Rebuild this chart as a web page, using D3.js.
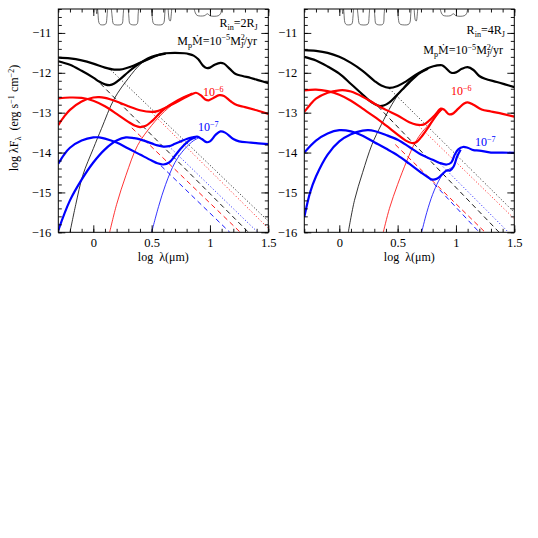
<!DOCTYPE html>
<html>
<head>
<meta charset="utf-8">
<script src="https://cdnjs.cloudflare.com/ajax/libs/d3/7.8.5/d3.min.js"></script>
<style>
  body { margin: 0; background: #fff; }
  svg text { font-family: "Liberation Serif", "DejaVu Serif", serif; }
</style>
</head>
<body>
<svg id="chart" width="538" height="538"></svg>
<script>
// axis ticks
const xTicks = [0, 0.5, 1, 1.5];
const yTicks = [-16, -15, -14, -13, -12, -11];
const xMinor = d3.range(-3, 16).map(d => d / 10);
const yMinor = d3.range(-80, -51).map(d => d / 5);

// filter transmission profiles hanging from the top (log lambda, log lambda F)
const bandJ = [[0.025,-10.4],[0.03,-10.52],[0.036,-10.4],[0.04,-10.5],[0.048,-10.74],[0.06,-10.79],[0.1,-10.79],[0.11,-10.76],[0.117,-10.6],[0.122,-10.4]];
const bandH = [[0.155,-10.4],[0.162,-10.6],[0.17,-10.76],[0.18,-10.79],[0.24,-10.79],[0.25,-10.75],[0.255,-10.6],[0.26,-10.4]];
const bandK = [[0.3,-10.4],[0.305,-10.6],[0.312,-10.76],[0.325,-10.79],[0.37,-10.79],[0.38,-10.74],[0.384,-10.55],[0.388,-10.4]];
const bandL = [[0.5,-10.4],[0.505,-10.6],[0.515,-10.76],[0.53,-10.79],[0.59,-10.79],[0.605,-10.74],[0.612,-10.55],[0.616,-10.4]];
const bandM = [[0.642,-10.4],[0.652,-10.68],[0.66,-10.7],[0.668,-10.55],[0.672,-10.4]];
const bandN = [[0.865,-10.4],[0.875,-10.5],[0.89,-10.56],[0.95,-10.57],[0.98,-10.52],[1.0,-10.57],[1.07,-10.57],[1.09,-10.52],[1.1,-10.4]];

// ---- left panel, R_in = 2 R_J ----
const leftBlackE = [[-0.3,-11.71],[-0.2,-11.8],[-0.1,-11.95],[0,-12.12],[0.05,-12.22],[0.1,-12.29],[0.14,-12.31],[0.18,-12.27],[0.23,-12.16],[0.3,-11.98],[0.36,-11.84],[0.43,-11.7],[0.5,-11.6],[0.56,-11.55],[0.62,-11.52]];
const leftBlackL = [[-0.3,-11.62],[-0.2,-11.64],[-0.1,-11.69],[0,-11.77],[0.1,-11.87],[0.18,-11.92],[0.25,-11.91],[0.32,-11.85],[0.4,-11.75],[0.5,-11.62],[0.57,-11.54],[0.62,-11.51],[0.7,-11.5],[0.78,-11.51],[0.82,-11.53],[0.86,-11.57],[0.9,-11.66],[0.94,-11.82],[0.97,-11.88],[1.0,-11.87],[1.04,-11.8],[1.09,-11.75],[1.12,-11.77],[1.17,-11.9],[1.22,-12.03],[1.28,-12.08],[1.35,-12.13],[1.42,-12.19],[1.5,-12.26]];
const leftBlackThin = [[-0.2,-16],[-0.15,-15.3],[-0.09,-14.57],[0,-13.9],[0.07,-13.4],[0.18,-12.65],[0.3,-12.14],[0.41,-11.77],[0.5,-11.62],[0.56,-11.56],[0.62,-11.52]];
const leftBlackDash = [[0.06,-12.27],[1.33,-16]];
const leftBlackDot = [[0.15,-11.93],[1.5,-15.72]];

const leftRedE = [[-0.3,-12.64],[-0.2,-12.62],[-0.1,-12.63],[0,-12.7],[0.1,-12.84],[0.2,-13.03],[0.3,-13.23],[0.36,-13.33],[0.4,-13.36],[0.45,-13.33],[0.5,-13.22],[0.55,-13.07],[0.6,-12.93],[0.65,-12.82],[0.7,-12.73],[0.75,-12.65],[0.8,-12.58],[0.85,-12.52]];
const leftRedL = [[-0.3,-13.31],[-0.25,-13.1],[-0.2,-12.93],[-0.1,-12.72],[0,-12.62],[0.05,-12.61],[0.1,-12.63],[0.2,-12.72],[0.3,-12.84],[0.4,-12.94],[0.5,-12.98],[0.55,-12.96],[0.6,-12.9],[0.7,-12.76],[0.8,-12.6],[0.85,-12.53],[0.88,-12.5],[0.92,-12.56],[0.96,-12.67],[0.99,-12.69],[1.03,-12.63],[1.08,-12.56],[1.12,-12.58],[1.18,-12.72],[1.23,-12.81],[1.3,-12.86],[1.4,-12.94],[1.5,-13.03]];
const leftRedThin = [[0.14,-16],[0.2,-15.3],[0.28,-14.57],[0.38,-13.82],[0.5,-13.32],[0.61,-12.97],[0.75,-12.65],[0.85,-12.52]];
const leftRedDash = [[0.33,-13.38],[1.26,-16]];
const leftRedDot = [[0.5,-13.0],[1.5,-15.9]];

const leftBlueE = [[-0.3,-14.28],[-0.25,-14.05],[-0.2,-13.88],[-0.1,-13.7],[0,-13.62],[0.05,-13.62],[0.1,-13.65],[0.2,-13.75],[0.3,-13.9],[0.4,-14.05],[0.5,-14.2],[0.55,-14.27],[0.6,-14.3],[0.65,-14.25],[0.7,-14.08],[0.75,-13.9],[0.8,-13.75],[0.85,-13.65],[0.88,-13.62]];
const leftBlueL = [[-0.3,-15.95],[-0.2,-15.2],[-0.1,-14.68],[0,-14.25],[0.1,-13.92],[0.2,-13.7],[0.28,-13.62],[0.35,-13.64],[0.4,-13.67],[0.5,-13.77],[0.55,-13.82],[0.6,-13.85],[0.65,-13.84],[0.7,-13.78],[0.75,-13.72],[0.8,-13.66],[0.85,-13.62],[0.89,-13.6],[0.93,-13.66],[0.97,-13.74],[1.0,-13.72],[1.05,-13.55],[1.09,-13.47],[1.13,-13.5],[1.2,-13.66],[1.25,-13.72],[1.35,-13.75],[1.5,-13.79]];
const leftBlueThin = [[0.5,-16],[0.56,-15.35],[0.62,-14.8],[0.7,-14.25],[0.78,-13.92],[0.86,-13.7],[0.9,-13.64]];
const leftBlueDash = [[0.58,-14.33],[1.17,-16]];
const leftBlueDot = [[0.65,-13.85],[1.41,-16]];

// ---- right panel, R_in = 4 R_J ----
const rightBlackE = [[-0.3,-11.6],[-0.2,-11.69],[-0.1,-11.84],[0,-12.02],[0.1,-12.28],[0.19,-12.52],[0.25,-12.68],[0.3,-12.78],[0.34,-12.83],[0.38,-12.82],[0.43,-12.74],[0.48,-12.6],[0.54,-12.42],[0.6,-12.24],[0.65,-12.1],[0.7,-11.99],[0.76,-11.9]];
const rightBlackL = [[-0.3,-11.43],[-0.2,-11.45],[-0.1,-11.5],[0,-11.6],[0.1,-11.75],[0.2,-11.95],[0.3,-12.2],[0.36,-12.32],[0.43,-12.38],[0.5,-12.33],[0.57,-12.22],[0.65,-12.06],[0.72,-11.94],[0.78,-11.86],[0.83,-11.82],[0.88,-11.81],[0.92,-11.9],[0.96,-12.0],[1.0,-11.99],[1.05,-11.9],[1.1,-11.86],[1.15,-11.93],[1.2,-12.08],[1.25,-12.15],[1.35,-12.23],[1.42,-12.29],[1.5,-12.36]];
const rightBlackThin = [[0.077,-16],[0.13,-15.2],[0.2,-14.5],[0.28,-13.8],[0.36,-13.3],[0.45,-12.8],[0.53,-12.44],[0.6,-12.2],[0.68,-12.02],[0.76,-11.9]];
const rightBlackDash = [[0.33,-12.84],[1.37,-16]];
const rightBlackDot = [[0.43,-12.4],[1.5,-15.5]];

const rightRedE = [[-0.3,-12.44],[-0.2,-12.42],[-0.1,-12.46],[0,-12.55],[0.1,-12.7],[0.2,-12.9],[0.3,-13.1],[0.4,-13.32],[0.5,-13.55],[0.57,-13.7],[0.62,-13.76],[0.66,-13.74],[0.7,-13.62],[0.75,-13.42],[0.8,-13.2],[0.85,-13.0],[0.88,-12.9]];
const rightRedL = [[-0.3,-12.98],[-0.25,-12.8],[-0.2,-12.65],[-0.1,-12.5],[0,-12.44],[0.05,-12.44],[0.1,-12.47],[0.2,-12.6],[0.3,-12.77],[0.4,-12.93],[0.5,-13.07],[0.6,-13.24],[0.66,-13.3],[0.72,-13.3],[0.77,-13.2],[0.82,-13.06],[0.87,-12.9],[0.9,-12.93],[0.94,-13.04],[0.97,-13.03],[1.02,-12.9],[1.07,-12.77],[1.1,-12.74],[1.15,-12.8],[1.22,-12.92],[1.3,-12.97],[1.4,-13.03],[1.5,-13.1]];
const rightRedThin = [[0.377,-16],[0.43,-15.4],[0.5,-14.8],[0.58,-14.2],[0.65,-13.75],[0.72,-13.45],[0.8,-13.2],[0.87,-12.95],[0.9,-12.9]];
const rightRedDash = [[0.48,-13.8],[1.25,-16]];
const rightRedDot = [[0.68,-13.33],[1.5,-15.66]];

const rightBlueE = [[-0.3,-14.0],[-0.2,-13.7],[-0.1,-13.52],[0,-13.44],[0.1,-13.47],[0.2,-13.58],[0.3,-13.74],[0.4,-13.9],[0.5,-14.07],[0.6,-14.28],[0.7,-14.5],[0.76,-14.62],[0.8,-14.68],[0.84,-14.65],[0.88,-14.55],[0.92,-14.45],[0.95,-14.45],[0.98,-14.35],[1.01,-14.1],[1.04,-13.93]];
const rightBlueL = [[-0.3,-15.62],[-0.25,-15.0],[-0.2,-14.6],[-0.1,-14.05],[0,-13.72],[0.1,-13.54],[0.2,-13.45],[0.25,-13.44],[0.3,-13.46],[0.4,-13.56],[0.5,-13.68],[0.6,-13.86],[0.7,-14.05],[0.8,-14.18],[0.86,-14.26],[0.92,-14.3],[0.96,-14.25],[0.99,-14.05],[1.02,-13.92],[1.06,-13.86],[1.1,-13.88],[1.15,-13.94],[1.2,-13.95],[1.3,-14.0],[1.4,-14.0],[1.5,-14.01]];
const rightBlueThin = [[0.706,-16],[0.75,-15.5],[0.8,-15.05],[0.85,-14.72],[0.9,-14.5],[0.95,-14.4],[0.98,-14.36]];
const rightBlueDash = [[0.76,-14.62],[1.2,-16]];
const rightBlueDot = [[0.85,-14.24],[1.45,-16]];

const bands = [bandJ, bandH, bandK, bandL, bandM, bandN];

const svg = d3.select('#chart');
const plotTop = 9, plotBottom = 232.3, plotW = 210;

const y = d3.scaleLinear().domain([-16, -10.4]).range([plotBottom, plotTop]);

const styles = {
  thick: {w: 2.2, dash: null},
  thin: {w: 0.8, dash: null},
  dash: {w: 0.9, dash: '5,3.5'},
  dot: {w: 0.9, dash: '1,2.2'}
};

const panels = [
  {
    id: 'L', left: 58.3,
    series: [
      [leftBlackDot, 'dot', 'black'], [leftRedDot, 'dot', 'red'], [leftBlueDot, 'dot', 'blue'],
      [leftBlackDash, 'dash', 'black'], [leftRedDash, 'dash', 'red'], [leftBlueDash, 'dash', 'blue'],
      [leftBlackThin, 'thin', 'black'], [leftRedThin, 'thin', 'red'], [leftBlueThin, 'thin', 'blue'],
      [leftBlackE, 'thick', 'black'], [leftBlackL, 'thick', 'black'],
      [leftRedE, 'thick', 'red'], [leftRedL, 'thick', 'red'],
      [leftBlueE, 'thick', 'blue'], [leftBlueL, 'thick', 'blue']
    ],
    rin: '2', rinPos: [1.41, -10.85], mdotPos: [1.403, -11.3],
    redLab: [0.94, -12.59], blueLab: [0.897, -13.46]
  },
  {
    id: 'R', left: 304.3,
    series: [
      [rightBlackDot, 'dot', 'black'], [rightRedDot, 'dot', 'red'], [rightBlueDot, 'dot', 'blue'],
      [rightBlackDash, 'dash', 'black'], [rightRedDash, 'dash', 'red'], [rightBlueDash, 'dash', 'blue'],
      [rightBlackThin, 'thin', 'black'], [rightRedThin, 'thin', 'red'], [rightBlueThin, 'thin', 'blue'],
      [rightBlackE, 'thick', 'black'], [rightBlackL, 'thick', 'black'],
      [rightRedE, 'thick', 'red'], [rightRedL, 'thick', 'red'],
      [rightBlueE, 'thick', 'blue'], [rightBlueL, 'thick', 'blue']
    ],
    rin: '4', rinPos: [1.42, -11.03], mdotPos: [1.403, -11.53],
    redLab: [0.957, -12.56], blueLab: [1.163, -13.84]
  }
];

// text with sub/superscripts: parts are [text, kind, dx, font, fontSize]
function richText(g, px, py, parts, anchor, color, size) {
  const t = g.append('text').attr('x', px).attr('y', py)
    .attr('text-anchor', anchor).attr('fill', color).style('font-size', size + 'px');
  let off = 0;
  parts.forEach(([s, k, dx, font, fs]) => {
    const target = k === 'b' ? 3 : (k === 'p' ? -4.5 : 0);
    const sp = t.append('tspan').attr('dy', target - off).text(s);
    if (dx) sp.attr('dx', dx);
    if (font) sp.style('font-family', font);
    if (k !== 'n') sp.style('font-size', (size * 0.68) + 'px');
    if (fs) sp.style('font-size', fs + 'px');
    off = target;
  });
  return t;
}

panels.forEach(p => {
  const x = d3.scaleLinear().domain([-0.3, 1.5]).range([p.left, p.left + plotW]);
  const g = svg.append('g');

  g.append('clipPath').attr('id', 'clip' + p.id).append('rect')
    .attr('x', p.left).attr('y', plotTop).attr('width', plotW).attr('height', plotBottom - plotTop);

  const line = d3.line().x(d => x(d[0])).y(d => y(d[1])).curve(d3.curveCatmullRom.alpha(0.5));
  const plot = g.append('g').attr('clip-path', `url(#clip${p.id})`);

  bands.forEach(b => {
    plot.append('path').attr('d', line(b))
      .attr('fill', 'none').attr('stroke', '#333').attr('stroke-width', 0.7);
  });

  p.series.forEach(([data, kind, color]) => {
    const st = styles[kind];
    plot.append('path').attr('d', line(data))
      .attr('fill', 'none')
      .attr('stroke', color)
      .attr('stroke-width', st.w)
      .attr('stroke-dasharray', st.dash)
      .attr('stroke-linejoin', 'round');
  });

  // axes: major and minor ticks on all four sides, pointing inward
  const noDomain = s => s.select('.domain').remove();
  const fmt = d3.format('');
  g.append('g').attr('transform', `translate(0,${plotBottom})`)
    .call(d3.axisBottom(x).tickValues(xTicks).tickSize(-7).tickPadding(6).tickFormat(fmt)).call(noDomain);
  g.append('g').attr('transform', `translate(0,${plotBottom})`)
    .call(d3.axisBottom(x).tickValues(xMinor).tickSize(-3.5).tickFormat('')).call(noDomain);
  g.append('g').attr('transform', `translate(0,${plotTop})`)
    .call(d3.axisTop(x).tickValues(xTicks).tickSize(-7).tickFormat('')).call(noDomain);
  g.append('g').attr('transform', `translate(0,${plotTop})`)
    .call(d3.axisTop(x).tickValues(xMinor).tickSize(-3.5).tickFormat('')).call(noDomain);
  g.append('g').attr('transform', `translate(${p.left},0)`)
    .call(d3.axisLeft(y).tickValues(yTicks).tickSize(-7).tickPadding(7).tickFormat(d3.format('d'))).call(noDomain);
  g.append('g').attr('transform', `translate(${p.left},0)`)
    .call(d3.axisLeft(y).tickValues(yMinor).tickSize(-3.5).tickFormat('')).call(noDomain);
  g.append('g').attr('transform', `translate(${p.left + plotW},0)`)
    .call(d3.axisRight(y).tickValues(yTicks).tickSize(-7).tickFormat('')).call(noDomain);
  g.append('g').attr('transform', `translate(${p.left + plotW},0)`)
    .call(d3.axisRight(y).tickValues(yMinor).tickSize(-3.5).tickFormat('')).call(noDomain);

  g.selectAll('.tick text').attr('font-family', null).style('font-size', '12.5px').attr('fill', '#000');
  g.selectAll('.tick line').attr('stroke', '#000').attr('stroke-width', 0.9);

  g.append('rect').attr('x', p.left).attr('y', plotTop)
    .attr('width', plotW).attr('height', plotBottom - plotTop)
    .attr('fill', 'none').attr('stroke', '#000').attr('stroke-width', 1);

  // x axis title
  richText(g, x(0.6), 261, [['log  λ(', 'n'], ['μ', 'n'], ['m)', 'n']], 'middle', '#000', 12)
    .attr('xml:space', 'preserve');

  // annotations
  richText(g, x(p.rinPos[0]), y(p.rinPos[1]),
    [['R', 'n'], ['in', 'b'], ['=' + p.rin + 'R', 'n'], ['J', 'b']], 'end', '#000', 12);
  richText(g, x(p.mdotPos[0]), y(p.mdotPos[1]),
    [['M', 'n'], ['p', 'b'], ['Ṁ', 'n', 0, '"DejaVu Serif"', 10.5], ['=10', 'n'], ['−5', 'p'],
     ['M', 'n'], ['2', 'p'], ['J', 'b', -4.5], ['/yr', 'n']],
    'end', '#000', 12);
  richText(g, x(p.redLab[0]), y(p.redLab[1]), [['10', 'n'], ['−6', 'p']], 'start', 'red', 12);
  richText(g, x(p.blueLab[0]), y(p.blueLab[1]), [['10', 'n'], ['−7', 'p']], 'start', 'blue', 12);
});

// y axis title
const yt = svg.append('g').attr('transform', 'translate(18,118) rotate(-90)');
richText(yt, 0, 0,
  [['log λF', 'n'], ['λ', 'b'], ['  (erg s', 'n'], ['−1', 'p'], [' cm', 'n'], ['−2', 'p'], [')', 'n']],
  'middle', '#000', 12).attr('xml:space', 'preserve');
</script>
</body>
</html>
